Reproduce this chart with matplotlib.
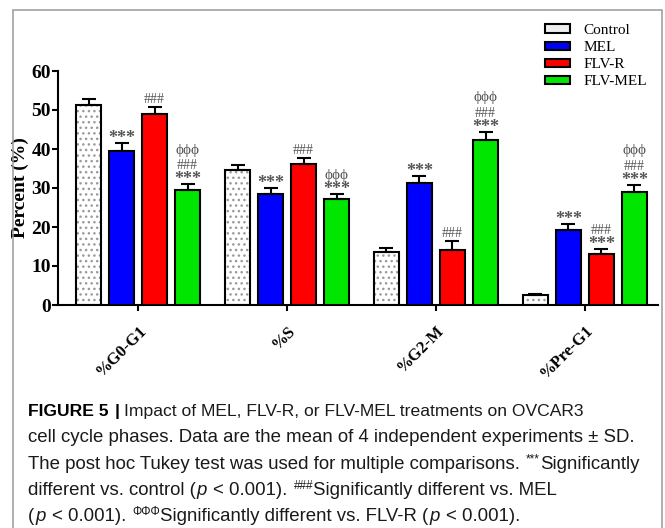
import numpy as np
import matplotlib
matplotlib.use('Agg')
import matplotlib.pyplot as plt
from matplotlib.patches import Patch, Rectangle
from matplotlib.transforms import ScaledTranslation

# data
phases = ['%G0-G1', '%S', '%G2-M', '%Pre-G1']
groups = ['Control', 'MEL', 'FLV-R', 'FLV-MEL']

control = [51.2, 34.7, 13.6, 2.5]
control_sd = [1.5, 1.3, 1.0, 0.4]
mel = [39.6, 28.5, 31.2, 19.3]
mel_sd = [2.0, 1.5, 1.9, 1.4]
flv_r = [49.1, 36.2, 14.1, 13.1]
flv_r_sd = [1.6, 1.5, 2.3, 1.2]
flv_mel = [29.6, 27.2, 42.2, 28.9]
flv_mel_sd = [1.4, 1.3, 2.2, 1.9]

control_marks = [[], [], [], []]
mel_marks = [['***'], ['***'], ['***'], ['***']]
flv_r_marks = [['###'], ['###'], ['###'], ['***', '###']]
flv_mel_marks = [['***', '###', 'ϕϕϕ'], ['***', 'ϕϕϕ'], ['***', '###', 'ϕϕϕ'], ['***', '###', 'ϕϕϕ']]

W, H = 665, 528
serif = ['Liberation Serif', 'DejaVu Serif']
sans = ['Liberation Sans', 'DejaVu Sans']

fig = plt.figure(figsize=(W / 100, H / 100), dpi=100)
ax = fig.add_axes([58 / W, 1 - 305 / H, 600 / W, 234 / H])

x = np.arange(len(phases))
pitch = 0.2215
width = 0.168

series = [
    (control, control_sd, 'white', control_marks),
    (mel, mel_sd, '#0000ff', mel_marks),
    (flv_r, flv_r_sd, '#ff0000', flv_r_marks),
    (flv_mel, flv_mel_sd, '#00e600', flv_mel_marks),
]

mark_style = {
    '***': dict(fontsize=13, fontweight='bold'),
    '###': dict(fontsize=10),
    'ϕϕϕ': dict(fontsize=11),
}
first_off = {'***': 0.0, '###': 1.0, 'ϕϕϕ': 1.5}
advance = {'***': 3.8, '###': 4.0, 'ϕϕϕ': 4.0}

for i, (vals, sd, color, marks) in enumerate(series):
    pos = x + (i - 1.5) * pitch
    if i == 0:
        ax.bar(pos, vals, width, color='white', edgecolor='#999999', hatch='...', linewidth=0, zorder=2)
        ax.bar(pos, vals, width, facecolor='none', edgecolor='black', linewidth=1.5, zorder=3)
    else:
        ax.bar(pos, vals, width, color=color, edgecolor='black', linewidth=1.5, zorder=3)
    ax.errorbar(pos, vals, yerr=[np.zeros(len(vals)), sd], fmt='none', ecolor='black',
                elinewidth=1.5, capsize=4.7, capthick=1.5, zorder=4)
    for j in range(len(vals)):
        b = vals[j] + sd[j]
        for k, m in enumerate(marks[j]):
            if k == 0:
                b += first_off[m]
            ax.text(pos[j], b, m, ha='center', va='baseline', color='#555555',
                    family=serif, clip_on=False, **mark_style[m])
            b += advance[m]

ax.set_xlim(-0.537, 3.49)
ax.set_ylim(0, 60)
ax.set_yticks(range(0, 61, 10))
ax.set_xticks(x)
ax.set_xticklabels(phases, rotation=45, ha='right', va='top', rotation_mode='anchor',
                   fontsize=12, fontweight='bold', family=serif)
for lab in ax.get_yticklabels():
    lab.set_fontsize(14)
    lab.set_fontweight('bold')
    lab.set_family(serif)
for lab in ax.get_xticklabels():
    lab.set_transform(lab.get_transform() + ScaledTranslation(2 / 100, 0, fig.dpi_scale_trans))

ax.tick_params(axis='both', length=4.3, width=1.5, color='black')
ax.tick_params(axis='x', pad=8.6)
ax.tick_params(axis='y', pad=0.8)
for s in ['top', 'right']:
    ax.spines[s].set_visible(False)
for s in ['left', 'bottom']:
    ax.spines[s].set_linewidth(1.5)

ax.set_ylabel('Percent (%)', fontsize=14, fontweight='bold', family=serif)
ax.yaxis.set_label_coords((29 - 58) / 600, 0.5)

handles = [Patch(facecolor='#eeeeee', edgecolor='black', linewidth=1.5)]
handles += [Patch(facecolor=c, edgecolor='black', linewidth=1.5) for c in ['#0000ff', '#ff0000', '#00e600']]
fig.legend(handles, groups, loc='upper left', bbox_to_anchor=(545 / W, 1 - 24 / H),
           frameon=False, prop={'family': serif, 'size': 11},
           handlelength=1.64, handleheight=0.45, handletextpad=0.9,
           labelspacing=0.27, borderpad=0, borderaxespad=0)

# grey frame round the figure panel
fig.patches.append(Rectangle((13 / W, -0.05), (662 - 13) / W, 1 - 10 / H + 0.05,
                             transform=fig.transFigure, fill=False,
                             edgecolor='#9a9a9a', linewidth=1.1))

# caption
renderer = fig.canvas.get_renderer()
cap_size = 13.4
sup_size = 8.5


def text_w(s, size, **kw):
    t = fig.text(0, 0, s, family=sans, fontsize=size, **kw)
    w = t.get_window_extent(renderer).width
    t.remove()
    return w


def caption_line(x_px, y_px, pieces, size):
    space_w = text_w('a a', size) - text_w('aa', size)
    xx = x_px
    for p in pieces:
        if p == 'SP':
            xx += space_w
            continue
        if isinstance(p, (int, float)):
            xx += p
            continue
        s, kind = p
        kw = dict(family=sans, fontsize=size, color='#1a1a1a')
        rise = 0
        gap = 1
        if kind == 'b':
            kw['fontweight'] = 'bold'
            kw['color'] = 'black'
        elif kind == 'i':
            kw['fontstyle'] = 'italic'
        elif kind == 'sup':
            kw['fontsize'] = sup_size
            rise = 6
            gap = 0
        t = fig.text(xx / W, (H - y_px + rise) / H, s, ha='left', va='baseline', **kw)
        xx = t.get_window_extent(renderer).x1 + gap


lines = [
    [('FIGURE 5', 'b'), 5, ('|', 'b'), 3,
     ('Impact of MEL, FLV-R, or FLV-MEL treatments on OVCAR3', 'n')],
    [('cell cycle phases. Data are the mean of 4 independent experiments ± SD.', 'n')],
    [('The post hoc Tukey test was used for multiple comparisons.', 'n'), 'SP',
     ('***', 'sup'), ('Significantly', 'n')],
    [('different vs. control (', 'n'), ('p', 'i'), 'SP', ('< 0.001).', 'n'), 'SP',
     ('###', 'sup'), ('Significantly different vs. MEL', 'n')],
    [('(', 'n'), ('p', 'i'), 'SP', ('< 0.001).', 'n'), 'SP', ('ΦΦΦ', 'sup'),
     ('Significantly different vs. FLV-R (', 'n'), ('p', 'i'), 'SP', ('< 0.001).', 'n')],
]
sizes = [12.6, cap_size, cap_size, cap_size, cap_size]
for n, pieces in enumerate(lines):
    caption_line(28, 416 + 26.3 * n, pieces, sizes[n])

fig.savefig('out.png', dpi=100)
